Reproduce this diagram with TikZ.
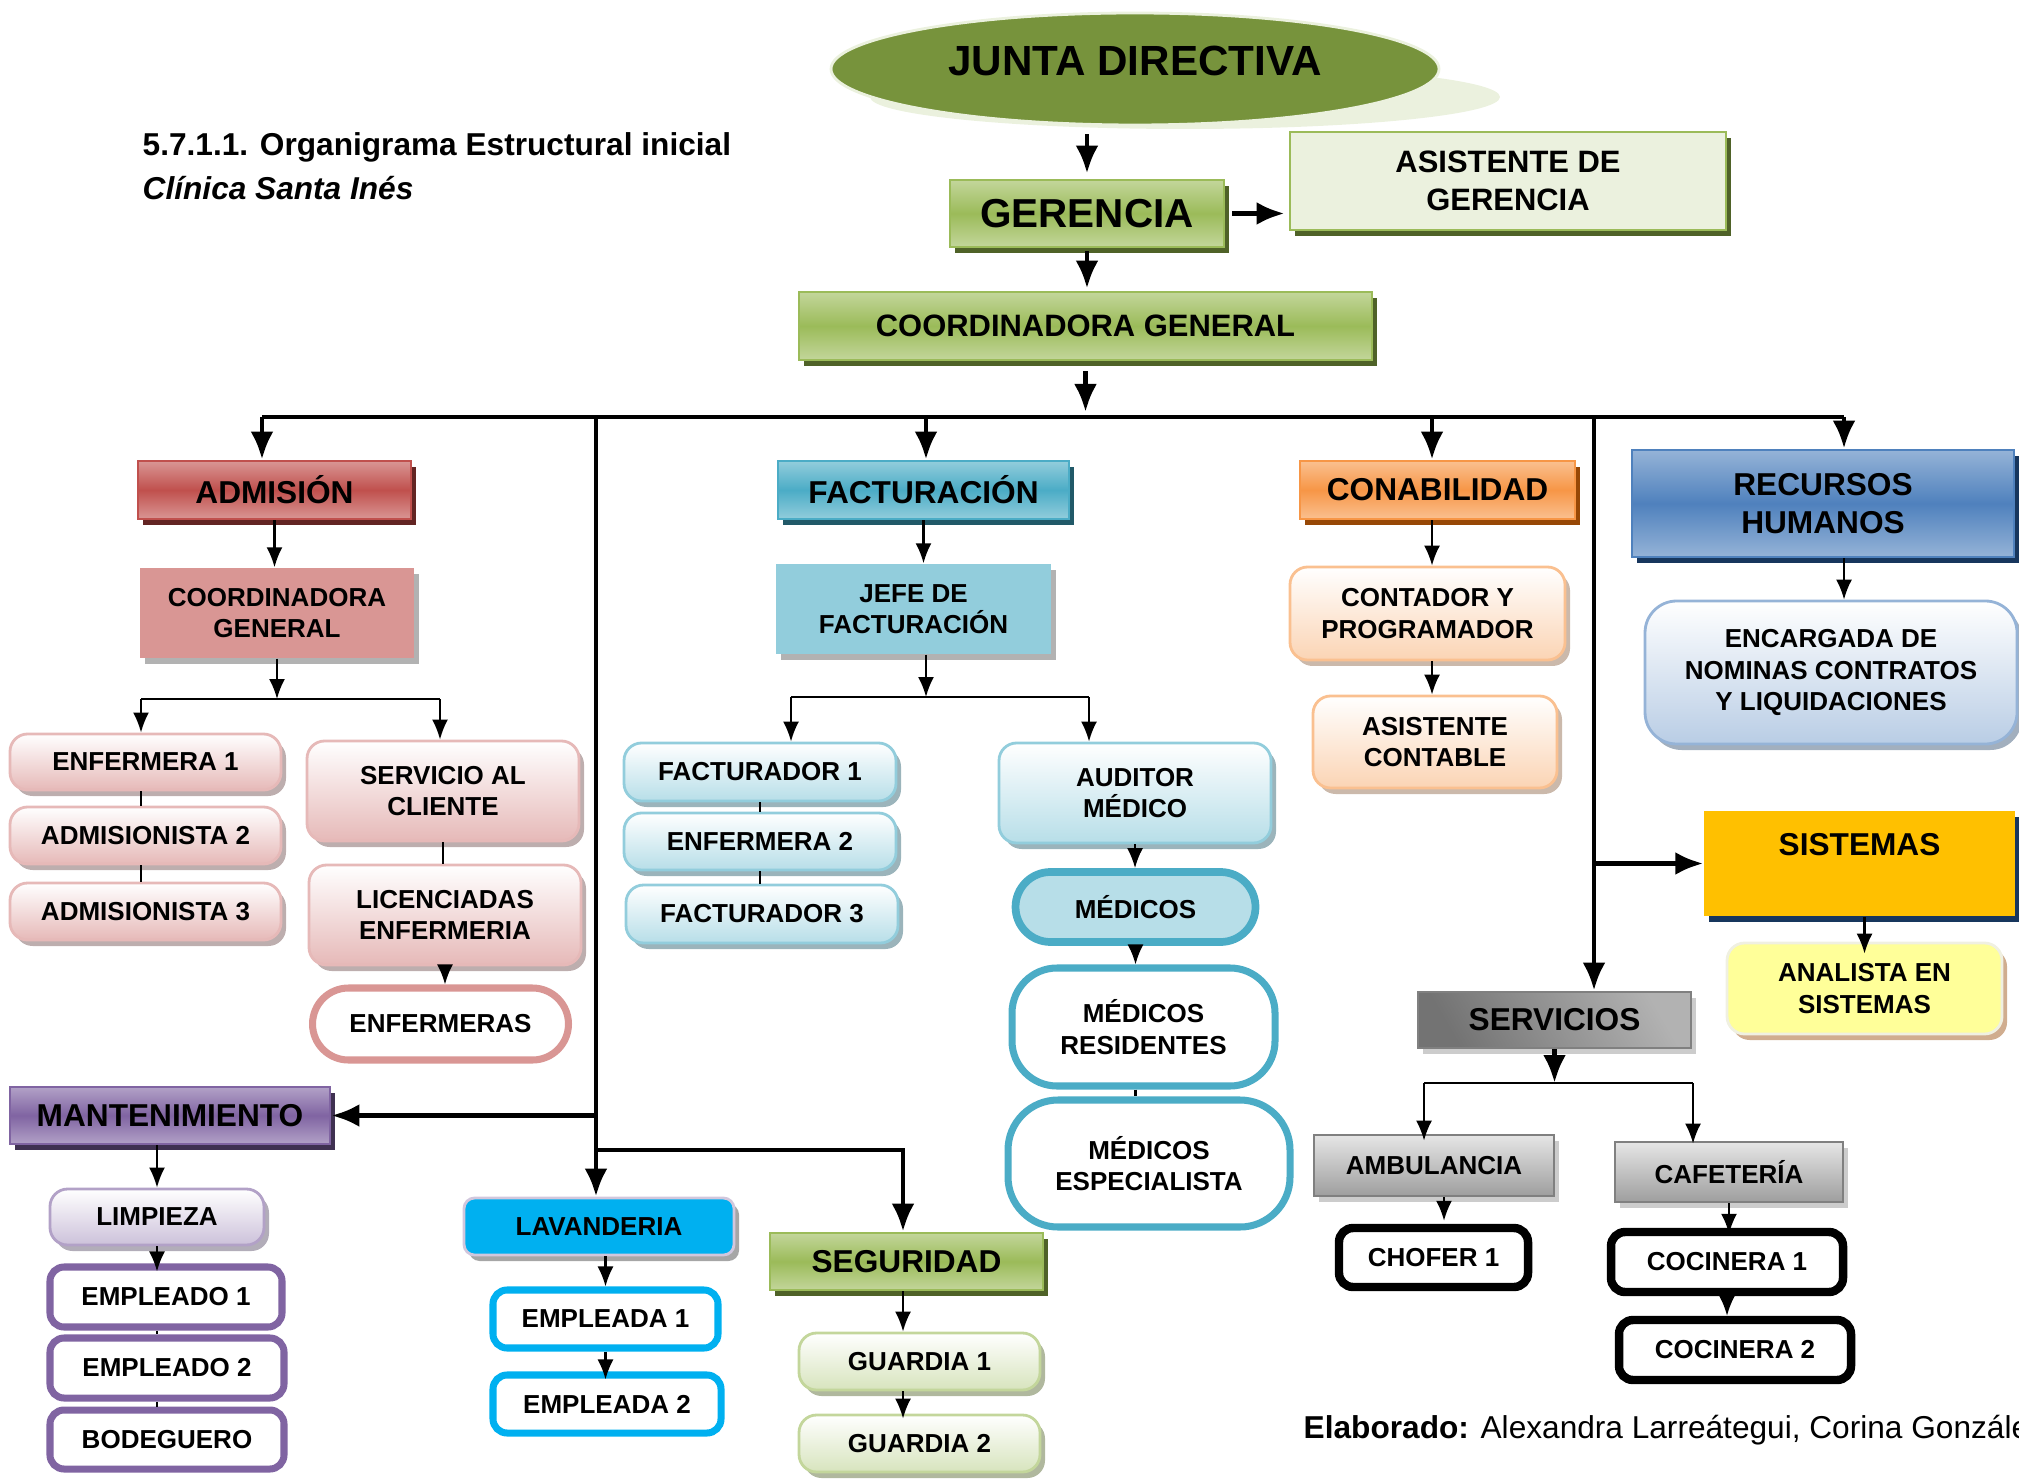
\documentclass[tikz,border=0pt]{standalone}
\usepackage{fontspec}
\setmainfont{Liberation Sans}
\usetikzlibrary{positioning,arrows.meta,shadows,shapes.geometric,shapes.misc}

\definecolor{oliva}{HTML}{77933C}
\definecolor{olivaclaro}{HTML}{EBF1DE}
\definecolor{verde}{HTML}{9BBB59}
\definecolor{verdeclaro}{HTML}{C3D69B}
\definecolor{verdeosc}{HTML}{4F6228}
\definecolor{verdepalido}{HTML}{D7E4BD}
\definecolor{rojo}{HTML}{C0504D}
\definecolor{rosa}{HTML}{D99694}
\definecolor{rosaclaro}{HTML}{E6B9B8}
\definecolor{rojoosc}{HTML}{632523}
\definecolor{azulag}{HTML}{4BACC6}
\definecolor{celeste}{HTML}{92CDDC}
\definecolor{celesteclaro}{HTML}{B7DEE8}
\definecolor{azulagosc}{HTML}{215968}
\definecolor{naranja}{HTML}{F79646}
\definecolor{naranjaclaro}{HTML}{FAC090}
\definecolor{durazno}{HTML}{FBD4B4}
\definecolor{naranjaosc}{HTML}{974806}
\definecolor{azul}{HTML}{4F81BD}
\definecolor{azulclaro}{HTML}{95B3D7}
\definecolor{azulpalido}{HTML}{B9CDE5}
\definecolor{azulosc}{HTML}{17365D}
\definecolor{ambar}{HTML}{FFC000}
\definecolor{amarillo}{HTML}{FFFF99}
\definecolor{morado}{HTML}{8064A2}
\definecolor{moradoclaro}{HTML}{B2A1C7}
\definecolor{lila}{HTML}{CCC1DA}
\definecolor{moradoosc}{HTML}{3F3151}
\definecolor{cian}{HTML}{00B0F0}

\tikzset{
  txt/.style={align=center, font=\bfseries\fontsize{7.4}{9}\selectfont, inner sep=1pt},
  big/.style={font=\bfseries\fontsize{9}{11}\selectfont},
  wh/.style 2 args={minimum width=#1cm, minimum height=#2cm},
  sombra/.style={drop shadow={shadow xshift=0.05cm, shadow yshift=-0.06cm, fill=#1, opacity=1}},
  cabeza/.style n args={3}{txt, big, draw=#1, line width=0.8pt, top color=#2, bottom color=#2, middle color=#1, sombra=#3},
  plano/.style 2 args={txt, fill=#1, sombra=#2},
  suave/.style n args={3}{txt, rounded corners=5pt, draw=#1, line width=0.8pt, top color=white, bottom color=#2, sombra=#3},
  marco/.style={txt, rounded corners=4pt, fill=white, draw=#1, line width=2pt},
  gris/.style={txt, draw=black!50, line width=0.8pt, top color=black!10, bottom color=black!38, sombra=black!20},
  bigarrow/.style={-{Latex[length=2.8mm,width=2.3mm]}, line width=1.4pt},
  arr/.style={-{Latex[length=2mm,width=1.6mm]}, line width=0.6pt},
  linea/.style={line width=0.6pt},
  bus/.style={line width=1.4pt}
}

\begin{document}
\begin{tikzpicture}[>=Latex]
\useasboundingbox (0,0) rectangle (20.19,-14.79);

% headings
\node[anchor=west, inner sep=0, font=\bfseries\fontsize{9}{11}\selectfont] (tit) at (1.42,-1.47) {5.7.1.1. Organigrama Estructural inicial};
\node[anchor=west, inner sep=0, font=\bfseries\itshape\fontsize{9}{11}\selectfont] (clin) at (1.42,-1.88) {Clínica Santa Inés};
\node[anchor=west, inner sep=0, font=\fontsize{9}{11}\selectfont] (elab) at (13.03,-14.30) {\textbf{Elaborado:} Alexandra Larreátegui, Corina González};

% top levels
\fill[olivaclaro] (11.85,-0.97) ellipse (3.15 and 0.32);
\node[ellipse, fill=oliva, draw=olivaclaro, line width=0.8pt, wh={6.08}{1.12}, text depth=0.16cm, font=\bfseries\fontsize{12}{14}\selectfont] (jd) at (11.35,-0.69) {JUNTA DIRECTIVA};
\node[cabeza={verde}{verdeclaro}{verdeosc}, wh={2.74}{0.67}, font=\bfseries\fontsize{11.5}{13}\selectfont] (ger) at (10.87,-2.135) {GERENCIA};
\node[txt, fill=olivaclaro, draw=verde, line width=0.8pt, sombra=verdeosc, wh={4.36}{0.98}, font=\bfseries\fontsize{8.8}{10.8}\selectfont] (asis) at (15.08,-1.81) {ASISTENTE DE\\GERENCIA};
\node[cabeza={verde}{verdeclaro}{verdeosc}, wh={5.73}{0.68}, font=\bfseries\fontsize{8.8}{10.8}\selectfont] (coord) at (10.855,-3.26) {COORDINADORA GENERAL};

% departments
\node[cabeza={rojo}{rosa}{rojoosc}, wh={2.73}{0.58}] (adm) at (2.745,-4.90) {ADMISIÓN};
\node[cabeza={azulag}{celeste}{azulagosc}, wh={2.91}{0.58}] (fact) at (9.235,-4.90) {FACTURACIÓN};
\node[cabeza={naranja}{naranjaclaro}{naranjaosc}, wh={2.75}{0.58}] (conab) at (14.375,-4.90) {CONABILIDAD};
\node[cabeza={azul}{azulclaro}{azulosc}, wh={3.82}{1.07}] (rrhh) at (18.23,-5.035) {RECURSOS\\HUMANOS};
\node[txt, big, fill=ambar, sombra=azulosc, wh={3.11}{1.05}, text height=0.34cm, text depth=0.51cm] (sis) at (18.595,-8.635) {SISTEMAS};
\node[gris, big, left color=black!30, right color=black!55, shading angle=-60, wh={2.73}{0.56}] (svc) at (15.545,-10.20) {SERVICIOS};
\node[cabeza={morado}{moradoclaro}{moradoosc}, wh={3.20}{0.57}] (mant) at (1.70,-11.155) {MANTENIMIENTO};
\node[txt, rounded corners=3pt, fill=cian, draw=moradoclaro!60, line width=0.8pt, sombra=black!35, wh={2.70}{0.57}] (lav) at (5.99,-12.265) {LAVANDERIA};
\node[cabeza={verde}{verdeclaro}{verdeosc}, wh={2.73}{0.57}] (seg) at (9.065,-12.615) {SEGURIDAD};

% admision
\node[plano={rosa}{black!30}, wh={2.74}{0.90}] (admcoord) at (2.77,-6.13) {COORDINADORA\\GENERAL};
\node[suave={rosaclaro}{rosaclaro}{rosa!50!black!45}, wh={2.71}{0.56}] (enf1) at (1.455,-7.62) {ENFERMERA 1};
\node[suave={rosaclaro}{rosaclaro}{rosa!50!black!45}, wh={2.71}{0.57}] (adm2) at (1.455,-8.355) {ADMISIONISTA 2};
\node[suave={rosaclaro}{rosaclaro}{rosa!50!black!45}, wh={2.71}{0.57}] (adm3) at (1.455,-9.115) {ADMISIONISTA 3};
\node[suave={rosaclaro}{rosaclaro}{rosa!50!black!45}, wh={2.72}{1.00}] (servcli) at (4.43,-7.91) {SERVICIO AL\\CLIENTE};
\node[suave={rosaclaro}{rosaclaro}{rosa!50!black!45}, wh={2.72}{1.00}] (lic) at (4.45,-9.15) {LICENCIADAS\\ENFERMERIA};
\node[txt, rounded rectangle, fill=white, draw=rosa, line width=2pt, wh={2.63}{0.72}] (enfs) at (4.405,-10.24) {ENFERMERAS};

% facturacion
\node[plano={celeste}{black!30}, wh={2.75}{0.90}] (jefe) at (9.135,-6.09) {JEFE DE\\FACTURACIÓN};
\node[suave={celeste}{celesteclaro}{azulagosc!45}, wh={2.72}{0.58}] (fac1) at (7.60,-7.72) {FACTURADOR 1};
\node[suave={celeste}{celesteclaro}{azulagosc!45}, wh={2.72}{0.57}] (enf2) at (7.60,-8.415) {ENFERMERA 2};
\node[suave={celeste}{celesteclaro}{azulagosc!45}, wh={2.72}{0.58}] (fac3) at (7.62,-9.14) {FACTURADOR 3};
\node[suave={celeste}{celesteclaro}{azulagosc!45}, wh={2.72}{1.00}] (aud) at (11.35,-7.93) {AUDITOR\\MÉDICO};
\node[txt, rounded rectangle, fill=celesteclaro, draw=azulag, line width=2.2pt, wh={2.47}{0.70}] (med) at (11.355,-9.07) {MÉDICOS};
\node[txt, rounded corners=0.45cm, fill=white, draw=azulag, line width=2pt, wh={2.63}{1.18}] (medres) at (11.435,-10.27) {MÉDICOS\\RESIDENTES};
\node[txt, rounded corners=0.5cm, fill=white, draw=azulag, line width=2pt, wh={2.82}{1.27}] (medesp) at (11.49,-11.635) {MÉDICOS\\ESPECIALISTA};

% contabilidad
\node[suave={naranjaclaro}{durazno}{naranjaclaro!60!black!50}, wh={2.75}{0.93}] (contprog) at (14.275,-6.135) {CONTADOR Y\\PROGRAMADOR};
\node[suave={naranjaclaro}{durazno}{naranjaclaro!60!black!50}, wh={2.44}{0.92}] (asiscont) at (14.35,-7.42) {ASISTENTE\\CONTABLE};

% recursos humanos y sistemas
\node[suave={azulclaro}{azulpalido}{azulosc!40}, rounded corners=9pt, wh={3.72}{1.43}] (nom) at (18.31,-6.725) {ENCARGADA DE\\NOMINAS CONTRATOS\\Y LIQUIDACIONES};
\node[suave={amarillo!70!black!20}{amarillo}{naranjaosc!45}, top color=amarillo, wh={2.75}{0.91}] (anal) at (18.645,-9.885) {ANALISTA EN\\SISTEMAS};

% servicios
\node[gris, wh={2.40}{0.61}] (amb) at (14.34,-11.655) {AMBULANCIA};
\node[gris, wh={2.28}{0.60}] (caf) at (17.29,-11.72) {CAFETERÍA};
\node[marco=black, line width=2.4pt, wh={1.89}{0.59}] (chof) at (14.335,-12.575) {CHOFER 1};
\node[marco=black, line width=2.4pt, wh={2.32}{0.60}] (coc1) at (17.27,-12.62) {COCINERA 1};
\node[marco=black, line width=2.4pt, wh={2.32}{0.60}] (coc2) at (17.35,-13.50) {COCINERA 2};

% mantenimiento, lavanderia, seguridad
\node[suave={moradoclaro}{lila}{moradoosc!40}, wh={2.14}{0.56}] (limp) at (1.57,-12.17) {LIMPIEZA};
\node[marco=morado, wh={2.32}{0.60}] (emp1) at (1.66,-12.97) {EMPLEADO 1};
\node[marco=morado, wh={2.34}{0.60}] (emp2) at (1.67,-13.68) {EMPLEADO 2};
\node[marco=morado, wh={2.34}{0.59}] (bod) at (1.67,-14.395) {BODEGUERO};
\node[marco=cian, wh={2.25}{0.58}] (ea1) at (6.055,-13.19) {EMPLEADA 1};
\node[marco=cian, wh={2.28}{0.58}] (ea2) at (6.07,-14.04) {EMPLEADA 2};
\node[suave={verdeclaro}{verdepalido}{verdeosc!45}, wh={2.41}{0.57}] (g1) at (9.195,-13.615) {GUARDIA 1};
\node[suave={verdeclaro}{verdepalido}{verdeosc!45}, wh={2.41}{0.57}] (g2) at (9.195,-14.435) {GUARDIA 2};

% main bus
\coordinate (bA) at (2.62,-4.17);
\coordinate (bL) at (5.96,-4.17);
\coordinate (bF) at (9.26,-4.17);
\coordinate (bC) at (14.32,-4.17);
\coordinate (bR) at (15.94,-4.17);
\coordinate (bH) at (18.44,-4.17);
\coordinate (sL) at (5.96,-11.50);
\coordinate (sR) at (9.03,-11.50);

\draw[bigarrow] ([yshift=-0.08cm]jd.south -| ger.north) -- ([yshift=0.05cm]ger.north);
\draw[bigarrow] ([xshift=0.07cm]ger.east) -- ([xshift=-0.04cm]asis.west |- ger.east);
\draw[bigarrow] ([yshift=-0.03cm]ger.south) -- ([yshift=0.02cm]ger.south |- coord.north);
\draw[bigarrow] ([yshift=-0.1cm]coord.south) -- ([yshift=0.05cm]coord.south |- bA);
\draw[bus] (bA) -- (bH);
\draw[bigarrow] (bA) -- (bA |- adm.north);
\draw[bigarrow] (bF) -- (bF |- fact.north);
\draw[bigarrow] (bC) -- (bC |- conab.north);
\draw[bigarrow] (bH) -- (bH |- rrhh.north);
\draw[bigarrow] (bL) -- (bL |- lav.north);
\draw[bigarrow] (bL |- mant.east) -- (mant.east);
\draw[bigarrow] (sL) -- (sR) -- (sR |- seg.north);
\draw[bigarrow] (bR) -- (bR |- svc.north);
\draw[bigarrow] (bR |- sis.west) -- (sis.west);

% admision links
\coordinate (aB1) at (1.41,-6.99);
\coordinate (aB2) at (4.40,-6.99);
\draw[arr] (adm.south) -- (adm.south |- admcoord.north);
\draw[arr] (admcoord.south) -- (admcoord.south |- aB1);
\draw[linea] (aB1) -- (aB2);
\draw[arr] (aB1) -- (aB1 |- enf1.north);
\draw[arr] (aB2) -- (aB2 |- servcli.north);
\draw[linea] (aB1 |- enf1.south) -- (aB1 |- adm2.north);
\draw[linea] (aB1 |- adm2.south) -- (aB1 |- adm3.north);
\draw[linea] (servcli.south) -- (servcli.south |- lic.north);
\draw[arr] (lic.south) -- (lic.south |- enfs.north);

% facturacion links
\coordinate (fB1) at (7.91,-6.97);
\coordinate (fB2) at (10.89,-6.97);
\draw[arr] (fact.south) -- (fact.south |- jefe.north);
\draw[arr] (bF |- jefe.south) -- (bF |- fB1);
\draw[linea] (fB1) -- (fB2);
\draw[arr] (fB1) -- (fB1 |- fac1.north);
\draw[arr] (fB2) -- (fB2 |- aud.north);
\draw[linea] (fac1.south) -- (fac1.south |- enf2.north);
\draw[linea] (enf2.south) -- (enf2.south |- fac3.north);
\draw[arr] (aud.south) -- (aud.south |- med.north);
\draw[arr] (med.south) -- (med.south |- medres.north);
\draw[linea] (med.south |- medres.south) -- (med.south |- medesp.north);

% contabilidad, rrhh, sistemas links
\draw[arr] (bC |- conab.south) -- (bC |- contprog.north);
\draw[arr] (bC |- contprog.south) -- (bC |- asiscont.north);
\draw[arr] (bH |- rrhh.south) -- (bH |- nom.north);
\draw[arr] ([xshift=0.05cm]sis.south) -- ([xshift=0.05cm,yshift=-0.12cm]sis.south |- anal.north);

% servicios links
\coordinate (sB1) at (14.24,-10.83);
\coordinate (sB2) at (16.93,-10.83);
\draw[bigarrow] (svc.south) -- (svc.south |- sB1);
\draw[linea] (sB1) -- (sB2);
\draw[arr] (sB1) -- ([yshift=-0.07cm]sB1 |- amb.north);
\draw[arr] (sB2) -- ([yshift=-0.03cm]sB2 |- caf.north);
\draw[arr] ([xshift=0.1cm]amb.south) -- ([xshift=0.1cm,yshift=0.03cm]amb.south |- chof.north);
\draw[arr] (caf.south) -- ([yshift=-0.06cm]caf.south |- coc1.north);
\draw[arr] (coc1.south) -- (coc1.south |- coc2.north);

% mantenimiento, lavanderia, seguridad links
\draw[arr] (limp.north |- mant.south) -- (limp.north);
\draw[arr] (limp.south) -- ([yshift=-0.08cm]limp.south |- emp1.north);
\draw[linea] (limp.north |- emp1.south) -- (limp.north |- emp2.north);
\draw[linea] (limp.north |- emp2.south) -- (limp.north |- bod.north);
\draw[arr] (ea1.north |- lav.south) -- (ea1.north);
\draw[arr] (ea1.south) -- ([yshift=-0.08cm]ea1.south |- ea2.north);
\draw[arr] (sR |- seg.south) -- (sR |- g1.north);
\draw[arr] (sR |- g1.south) -- ([yshift=-0.05cm]sR |- g2.north);

\end{tikzpicture}
\end{document}
